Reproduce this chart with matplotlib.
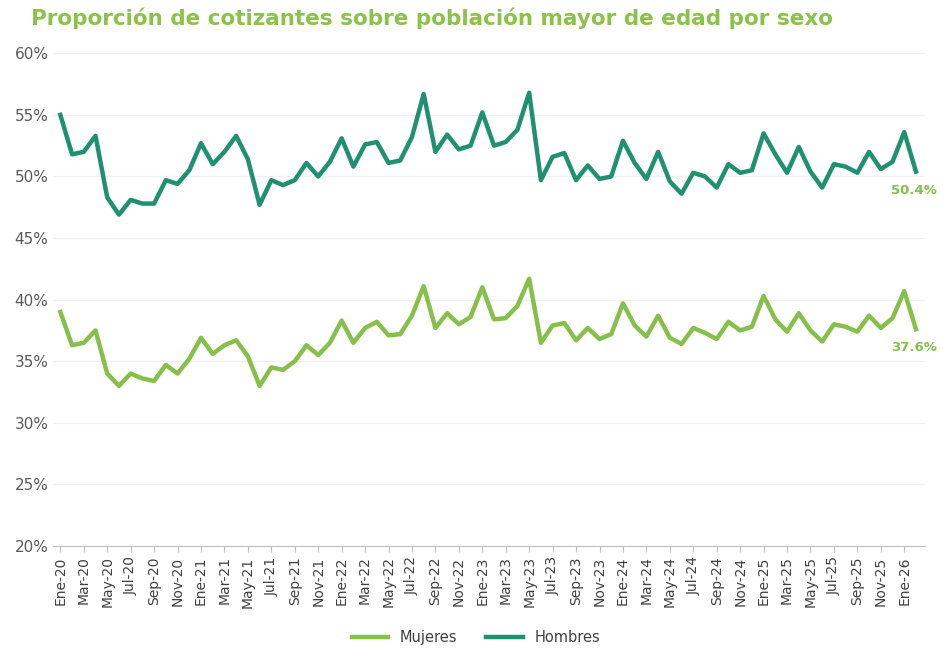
import matplotlib
matplotlib.use("Agg")
import matplotlib.pyplot as plt
from matplotlib.ticker import PercentFormatter

meses = ["Ene", "Feb", "Mar", "Abr", "May", "Jun", "Jul", "Ago", "Sep", "Oct", "Nov", "Dic"]
fechas = [f"{m}-{y}" for y in range(20, 27) for m in meses][:74]

mujeres = [39.0, 36.3, 36.5, 37.5, 34.0, 33.0, 34.0, 33.6, 33.4, 34.7, 34.0, 35.2,
           36.9, 35.6, 36.3, 36.7, 35.4, 33.0, 34.5, 34.3, 35.0, 36.3, 35.5, 36.5,
           38.3, 36.5, 37.7, 38.2, 37.1, 37.2, 38.7, 41.1, 37.7, 38.9, 38.0, 38.6,
           41.0, 38.4, 38.5, 39.5, 41.7, 36.5, 37.9, 38.1, 36.7, 37.7, 36.8, 37.2,
           39.7, 37.9, 37.0, 38.7, 36.9, 36.4, 37.7, 37.3, 36.8, 38.2, 37.5, 37.8,
           40.3, 38.4, 37.4, 38.9, 37.5, 36.6, 38.0, 37.8, 37.4, 38.7, 37.7, 38.5,
           40.7, 37.6]
hombres = [55.0, 51.8, 52.0, 53.3, 48.3, 46.9, 48.1, 47.8, 47.8, 49.7, 49.4, 50.5,
           52.7, 51.0, 52.0, 53.3, 51.4, 47.7, 49.7, 49.3, 49.7, 51.1, 50.0, 51.2,
           53.1, 50.8, 52.6, 52.8, 51.1, 51.3, 53.2, 56.7, 52.0, 53.4, 52.2, 52.5,
           55.2, 52.5, 52.8, 53.8, 56.8, 49.7, 51.6, 51.9, 49.7, 50.9, 49.8, 50.0,
           52.9, 51.1, 49.8, 52.0, 49.6, 48.6, 50.3, 50.0, 49.1, 51.0, 50.3, 50.5,
           53.5, 51.8, 50.3, 52.4, 50.4, 49.1, 51.0, 50.8, 50.3, 52.0, 50.6, 51.2,
           53.6, 50.4]

c_muj = "#86bf4a"
c_hom = "#1f9070"

fig = plt.figure(figsize=(9.52, 6.5), dpi=100)
ax = fig.add_axes([0.056, 0.16, 0.916, 0.758])
x = list(range(len(fechas)))
ax.plot(x, mujeres, color=c_muj, lw=3.2, label="Mujeres")
ax.plot(x, hombres, color=c_hom, lw=3.2, label="Hombres")
ax.text(x[-1] - 0.2, hombres[-1] - 1.5, f"{hombres[-1]:.1f}%", color=c_muj, fontsize=9.5,
        fontweight="bold", ha="center", va="center")
ax.text(x[-1] - 0.2, mujeres[-1] - 1.5, f"{mujeres[-1]:.1f}%", color=c_muj, fontsize=9.5,
        fontweight="bold", ha="center", va="center")

ax.set_ylim(20, 60)
ax.set_yticks(range(20, 61, 5))
ax.yaxis.set_major_formatter(PercentFormatter(decimals=0))
ax.set_xlim(-0.6, len(x) - 0.2)
ax.set_xticks(x[::2])
ax.set_xticklabels(fechas[::2], rotation=90, fontsize=10, color="#404040")
ax.tick_params(axis="y", labelsize=11, colors="#595959", length=0)
ax.tick_params(axis="x", length=4, color="#bfbfbf")
ax.grid(axis="y", color="#f0f0f0", lw=1)
for s in ["top", "right", "left"]:
    ax.spines[s].set_visible(False)
ax.spines["bottom"].set_color("#bfbfbf")

fig.text(0.033, 0.972, "Proporción de cotizantes sobre población mayor de edad por sexo",
         fontsize=15.5, fontweight="bold", color="#8bc34a", va="center")
fig.legend(loc="lower center", bbox_to_anchor=(0.5, -0.012), ncol=2, frameon=False,
           fontsize=10.5, labelcolor="#404040", handlelength=2.5)
fig.savefig("out.png", dpi=100)
